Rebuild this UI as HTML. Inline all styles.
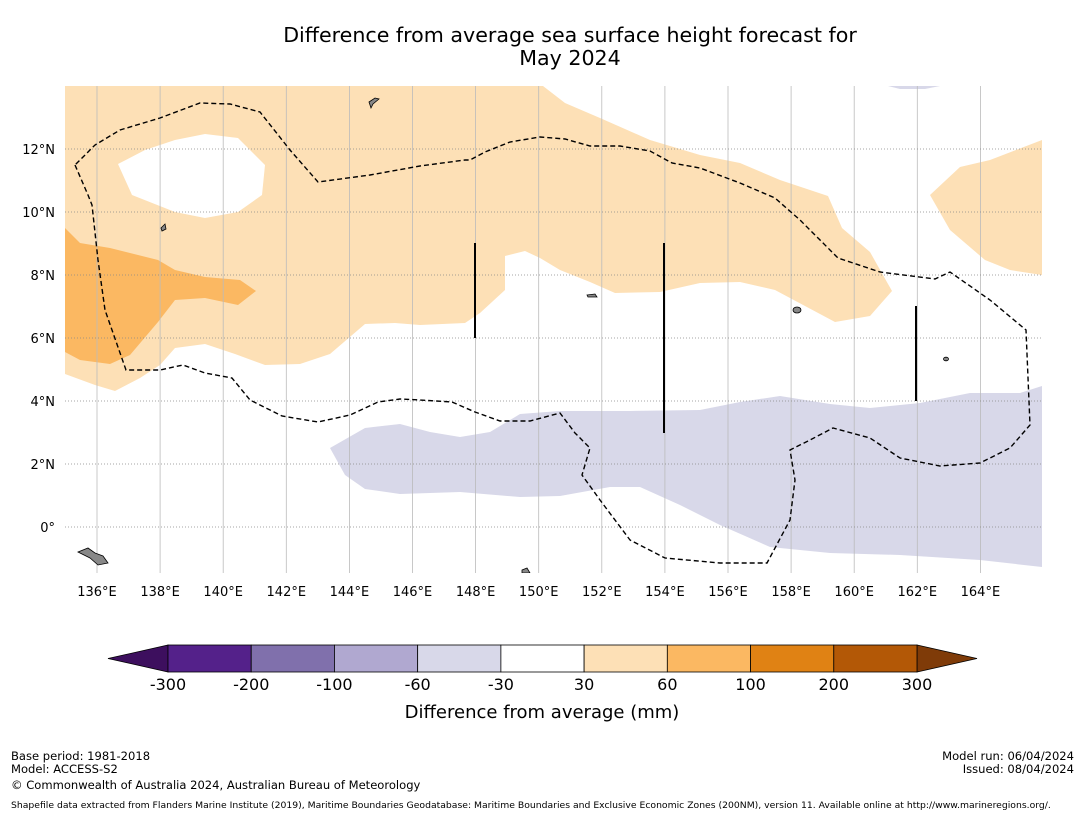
<!DOCTYPE html>
<html><head><meta charset="utf-8"><style>
body{margin:0;background:#fff;width:1085px;height:816px;overflow:hidden;font-family:"DejaVu Sans",sans-serif}
svg text{font-family:"DejaVu Sans",sans-serif}
</style></head><body>
<svg id="s" width="1085" height="816" viewBox="0 0 1085 816">
<rect width="1085" height="816" fill="#fff"/>
<text x="570" y="42" font-size="20.6" text-anchor="middle">Difference from average sea surface height forecast for</text>
<text x="570" y="65" font-size="20.6" text-anchor="middle">May 2024</text>
<defs><clipPath id="mc"><rect x="65" y="86" width="977" height="487"/></clipPath></defs>
<g clip-path="url(#mc)">
<path fill="#fde0b6" fill-rule="evenodd" d="M65,86 L543,86 L565,103 L600,118 L650,140 L700,155 L740,163 L780,180 L828,196 L842,228 L870,252 L892,291 L870,316 L835,322 L775,290 L740,282 L700,283 L660,292 L615,293 L590,282 L560,270 L540,258 L525,251 L505,256 L505,290 L480,313 L465,323 L420,325 L395,323 L365,324 L330,354 L300,364 L265,365 L235,354 L205,344 L175,348 L160,365 L140,378 L115,391 L95,385 L65,374 Z M118,164 L145,150 L175,140 L205,134 L238,138 L265,165 L262,195 L238,212 L205,218 L175,212 L132,195 Z"/>
<path fill="#fde0b6" d="M1042,140 L990,160 L960,167 L930,195 L950,230 L985,260 L1010,270 L1042,275 Z"/>
<path fill="#fbb862" d="M65,228 L80,243 L110,248 L158,260 L175,270 L205,277 L240,280 L256,291 L238,305 L205,298 L175,300 L158,322 L130,355 L110,364 L80,360 L65,352 Z"/>
<path fill="#d8d8e9" d="M330,448 L365,428 L400,424 L430,432 L460,437 L490,432 L520,414 L560,411 L630,411 L700,410 L740,402 L780,396 L830,404 L870,408 L920,403 L970,393 L1020,393 L1042,386 L1042,567 L980,560 L900,555 L830,553 L770,547 L720,525 L680,505 L640,487 L610,487 L560,496 L520,497 L460,492 L400,494 L365,489 L345,475 Z"/>
<path fill="#d8d8e9" d="M888,86 L940,86 L925,89 L900,89 Z"/>
<g id="grid"></g>
<path fill="none" stroke="#000" stroke-width="1.4" stroke-dasharray="5,3" d="M75,165 L88,195 L92,205 L98,260 L105,310 L126,370 L160,370 L183,365 L205,373 L232,378 L250,400 L282,416 L318,422 L350,415 L378,402 L400,399 L420,400 L452,402 L475,412 L500,421 L530,421 L560,413 L575,433 L590,448 L582,475 L600,500 L630,540 L665,558 L720,563 L767,563 L790,520 L795,480 L790,450 L810,440 L833,428 L870,438 L900,458 L940,466 L980,463 L1010,448 L1030,425 L1026,330 L990,300 L950,272 L935,279 L880,272 L838,258 L800,220 L775,198 L740,183 L700,168 L672,163 L650,151 L620,146 L590,146 L565,139 L540,137 L510,142 L485,152 L470,160 L465,160 L420,166 L370,175 L318,182 L290,150 L260,112 L230,104 L200,103 L160,118 L120,130 L95,145 L75,165"/>
<line x1="475" y1="243" x2="475" y2="338" stroke="#000" stroke-width="2"/>
<line x1="664" y1="243" x2="664" y2="433" stroke="#000" stroke-width="2"/>
<line x1="916" y1="306" x2="916" y2="401" stroke="#000" stroke-width="2"/>
<g fill="#888" stroke="#000" stroke-width="0.8">
<path d="M369,102 L375,98 L379,99 L373,104 L371,108 Z"/>
<path d="M161,228 L165,224 L166,229 L162,231 Z"/>
<ellipse cx="797" cy="310" rx="4" ry="3"/>
<path d="M78,552 L88,548 L95,553 L103,556 L108,563 L98,565 L90,558 Z"/>
<path d="M522,570 L527,568 L530,573 L522,573 Z"/>
<path d="M587,295 L595,294 L597,297 L588,297 Z"/>
<ellipse cx="946" cy="359" rx="2.5" ry="1.8"/>
</g>
</g>
<g id="ticks"></g>
<g id="cbar"></g>
<text x="542" y="718" font-size="18" text-anchor="middle">Difference from average (mm)</text>
<g font-size="11.55">
<text x="11" y="760">Base period: 1981-2018</text>
<text x="11" y="773">Model: ACCESS-S2</text>
<text x="11" y="789">© Commonwealth of Australia 2024, Australian Bureau of Meteorology</text>
<text x="1074" y="760" text-anchor="end">Model run: 06/04/2024</text>
<text x="1074" y="773" text-anchor="end">Issued: 08/04/2024</text>
<text x="11" y="808" font-size="9.25">Shapefile data extracted from Flanders Marine Institute (2019), Maritime Boundaries Geodatabase: Maritime Boundaries and Exclusive Economic Zones (200NM), version 11. Available online at http://www.marineregions.org/.</text>
</g>
</svg>
<script>
const lonTicks=[136,138,140,142,144,146,148,150,152,154,156,158,160,162,164];
const latTicks=[12,10,8,6,4,2,0];
const latLabels=["12°N","10°N","8°N","6°N","4°N","2°N","0°"];
const cbarBounds=[-300,-200,-100,-60,-30,30,60,100,200,300];
const cbarColors=["#54218a","#8070ac","#b0a8d0","#d8d8e9","#ffffff","#fde0b6","#fbb862","#e08214","#b35806"];
const cbarUnder="#3d0f5e", cbarOver="#7f3b08";
const NS="http://www.w3.org/2000/svg";
const xLon=l=>97+(l-136)*31.55;
const yLat=l=>527-l*31.5;
function mk(t,a,p){const e=document.createElementNS(NS,t);for(const k in a)e.setAttribute(k,a[k]);p.appendChild(e);return e;}
const grid=document.getElementById('grid'),ticks=document.getElementById('ticks');
lonTicks.forEach(l=>{
 const ln=mk('line',{x1:xLon(l),x2:xLon(l),y1:86,y2:573,stroke:'#bbb','stroke-width':0.8},grid);
 
 
 const t=mk('text',{x:xLon(l),y:596,'font-size':13,'text-anchor':'middle'},ticks);t.textContent=l+'°E';
 
 
});
latTicks.forEach((l,i)=>{
 const ln=mk('line',{x1:65,x2:1042,y1:yLat(l),y2:yLat(l),stroke:'#888','stroke-width':0.8,'stroke-dasharray':'1,2'},grid);
 
 
 const t=mk('text',{x:55,y:yLat(l)+5,'font-size':13,'text-anchor':'end'},ticks);t.textContent=latLabels[i];
 
 
});
const cb=document.getElementById('cbar');
const cx0=168,cx1=917,cy=645,ch=27,n=cbarColors.length,bw=(cx1-cx0)/n;
const lt=mk('polygon',{points:`${cx0},${cy} ${cx0},${cy+ch} 108,${cy+ch/2}`,fill:cbarUnder,stroke:'#000','stroke-width':0.8},cb);


const rt=mk('polygon',{points:`${cx1},${cy} ${cx1},${cy+ch} 977,${cy+ch/2}`,fill:cbarOver,stroke:'#000','stroke-width':0.8},cb);


cbarColors.forEach((c,i)=>{
 const r=mk('rect',{x:cx0+i*bw,y:cy,width:bw,height:ch,fill:c,stroke:'#000','stroke-width':0.8},cb);
 
 
});
cbarBounds.forEach((v,i)=>{
 const t=mk('text',{x:cx0+i*bw,y:690,'font-size':16,'text-anchor':'middle'},cb);t.textContent=v;
 
 
});
</script>
</body></html>
